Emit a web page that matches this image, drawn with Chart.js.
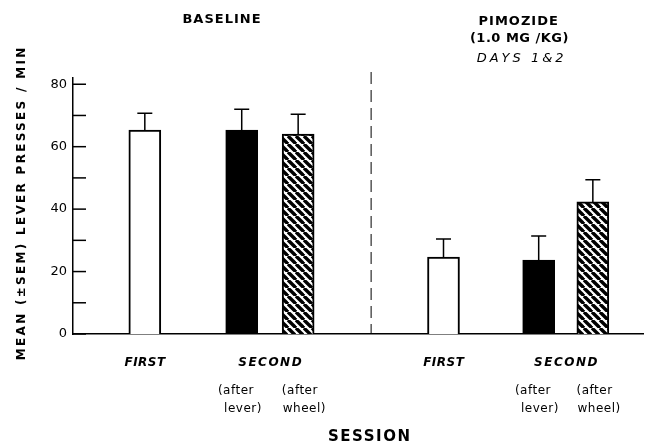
<!DOCTYPE html>
<html>
<head>
<meta charset="utf-8">
<script src="https://cdn.jsdelivr.net/npm/chart.js@4/dist/chart.umd.min.js"></script>
<style>
  html, body { margin: 0; padding: 0; background: #fff; }
  #wrap { width: 645px; height: 446px; position: relative; }
</style>
</head>
<body>
<div id="wrap"><canvas id="chart"></canvas></div>
<script>
// === DATA ===
const groups = ["BASELINE", "PIMOZIDE"];
const groupNotes = [[], ["(1.0 MG /KG)", "DAYS 1&2"]];
const sessions = ["FIRST", "SECOND", "SECOND"];
const afterLabels = ["", "(after|lever)", "(after|wheel)"];
const baselineMean = [65.3, 65.3, 64.0];
const baselineSem = [5.4, 6.7, 6.4];
const pimozideMean = [24.6, 23.7, 42.3];
const pimozideSem = [5.8, 7.7, 7.1];
const yTickLabels = [0, 20, 40, 60, 80];

// === LAYOUT (x scale units, 0..100) ===
const barSlots = [12.6, 29.6, 39.5, 65.0, 81.7, 91.2];
const dividerAt = 52.3;

// === HATCH PATTERN ===
function makeHatch() {
    const p = 8;
    const c = document.createElement("canvas");
    c.width = p; c.height = p;
    const g = c.getContext("2d");
    g.fillStyle = "#fff";
    g.fillRect(0, 0, p, p);
    g.strokeStyle = "#000";
    g.lineWidth = 3.4;
    for (let k = -1; k <= 1; k++) {
        g.beginPath();
        g.moveTo(k * p, 0);
        g.lineTo(k * p + p, p);
        g.stroke();
    }
    return g.createPattern(c, "repeat");
}

const styles = ["#ffffff", "#000000", makeHatch()];

const datasets = sessions.map((s, i) => ({
    label: s + " " + afterLabels[i],
    data: [
        { x: barSlots[i], y: baselineMean[i] },
        { x: barSlots[i + 3], y: pimozideMean[i] }
    ],
    sems: [baselineSem[i], pimozideSem[i]],
    backgroundColor: styles[i],
    borderColor: "#000",
    borderWidth: 2,
    borderSkipped: "start",
    barThickness: 32,
    grouped: false
}));

// === TEXT HELPER ===
function drawText(ctx, text, x, y, font, spacing) {
    ctx.save();
    ctx.font = font;
    ctx.letterSpacing = spacing + "px";
    ctx.fillStyle = "#000";
    ctx.textAlign = "center";
    ctx.textBaseline = "middle";
    ctx.fillText(text, x + spacing / 2, y);
    ctx.restore();
}

// === DECORATION PLUGIN ===
const decorations = {
    id: "decorations",
    afterDatasetsDraw(chart) {
        const ctx = chart.ctx;
        const xs = chart.scales.x;
        const ys = chart.scales.y;
        const area = chart.chartArea;

        // error bars (upper half only)
        ctx.save();
        ctx.strokeStyle = "#000";
        ctx.lineWidth = 1.5;
        chart.data.datasets.forEach((ds, di) => {
            chart.getDatasetMeta(di).data.forEach((el, j) => {
                const top = ys.getPixelForValue(ds.data[j].y + ds.sems[j]);
                ctx.beginPath();
                ctx.moveTo(el.x, el.y);
                ctx.lineTo(el.x, top);
                ctx.moveTo(el.x - 7.5, top);
                ctx.lineTo(el.x + 7.5, top);
                ctx.stroke();
            });
        });

        // inward ticks on y axis
        ys.ticks.forEach(t => {
            const y = ys.getPixelForValue(t.value);
            ctx.beginPath();
            ctx.moveTo(area.left, y);
            ctx.lineTo(area.left + 13, y);
            ctx.stroke();
        });

        // dashed divider
        ctx.lineWidth = 1;
        ctx.setLineDash([12, 6]);
        const dx = xs.getPixelForValue(dividerAt);
        ctx.beginPath();
        ctx.moveTo(dx, area.top - 6);
        ctx.lineTo(dx, area.bottom);
        ctx.stroke();
        ctx.restore();

        // group titles
        groups.forEach((g, gi) => {
            const cx = (xs.getPixelForValue(barSlots[gi * 3]) + xs.getPixelForValue(barSlots[gi * 3 + 2])) / 2;
            drawText(ctx, g, cx, gi === 0 ? 20 : 22, "bold 13px 'DejaVu Sans'", 1);
            groupNotes[gi].forEach((n, ni) => {
                if (ni === 0) drawText(ctx, n, cx + 1, 38.5, "bold 13px 'DejaVu Sans'", 0.5);
                else drawText(ctx, n, cx + 2, 59, "italic 13px 'DejaVu Sans'", 3);
            });

            // session labels
            const pFirst = xs.getPixelForValue(barSlots[gi * 3]);
            const pLever = xs.getPixelForValue(barSlots[gi * 3 + 1]);
            const pWheel = xs.getPixelForValue(barSlots[gi * 3 + 2]);
            drawText(ctx, sessions[0], pFirst, 363, "italic bold 12px 'DejaVu Sans'", 0.5);
            drawText(ctx, sessions[1], (pLever + pWheel) / 2, 363, "italic bold 12px 'DejaVu Sans'", 1.5);
            const shifts = [[-6, 1], [1.5, 6]];
            [pLever, pWheel].forEach((px, k) => {
                const parts = afterLabels[k + 1].split("|");
                drawText(ctx, parts[0], px + shifts[k][0], 391, "12px 'DejaVu Sans'", 0.5);
                drawText(ctx, parts[1], px + shifts[k][1], 409, "12px 'DejaVu Sans'", 0.5);
            });
        });

        // axis titles
        drawText(ctx, "SESSION", 369, 437, "bold 15px 'DejaVu Sans'", 1.5);
        ctx.save();
        ctx.translate(22, 204);
        ctx.rotate(-Math.PI / 2);
        drawText(ctx, "MEAN (±SEM) LEVER PRESSES / MIN", 0, 0, "bold 12px 'DejaVu Sans'", 2.3);
        ctx.restore();
    }
};

// === CHART ===
new Chart(document.getElementById("chart"), {
    type: "bar",
    data: { datasets },
    options: {
        responsive: true,
        maintainAspectRatio: false,
        animation: false,
        layout: { padding: { left: 43, right: 2, top: 78, bottom: 112 } },
        plugins: { legend: { display: false }, tooltip: { enabled: false } },
        scales: {
            x: {
                type: "linear",
                min: 0,
                max: 100,
                offset: false,
                ticks: { display: false },
                grid: { display: false },
                border: { display: true, color: "#000", width: 1.5 },
                afterFit: s => { s.height = 0; }
            },
            y: {
                min: 0,
                max: 82,
                ticks: {
                    stepSize: 10,
                    includeBounds: false,
                    padding: 6,
                    color: "#000",
                    font: { family: "DejaVu Sans", size: 13 },
                    callback: v => yTickLabels.includes(v) ? v : ""
                },
                grid: { display: false, drawTicks: false },
                border: { display: true, color: "#000", width: 1.5 },
                afterFit: s => { s.width = 30; }
            }
        }
    },
    plugins: [decorations]
});
</script>
</body>
</html>
